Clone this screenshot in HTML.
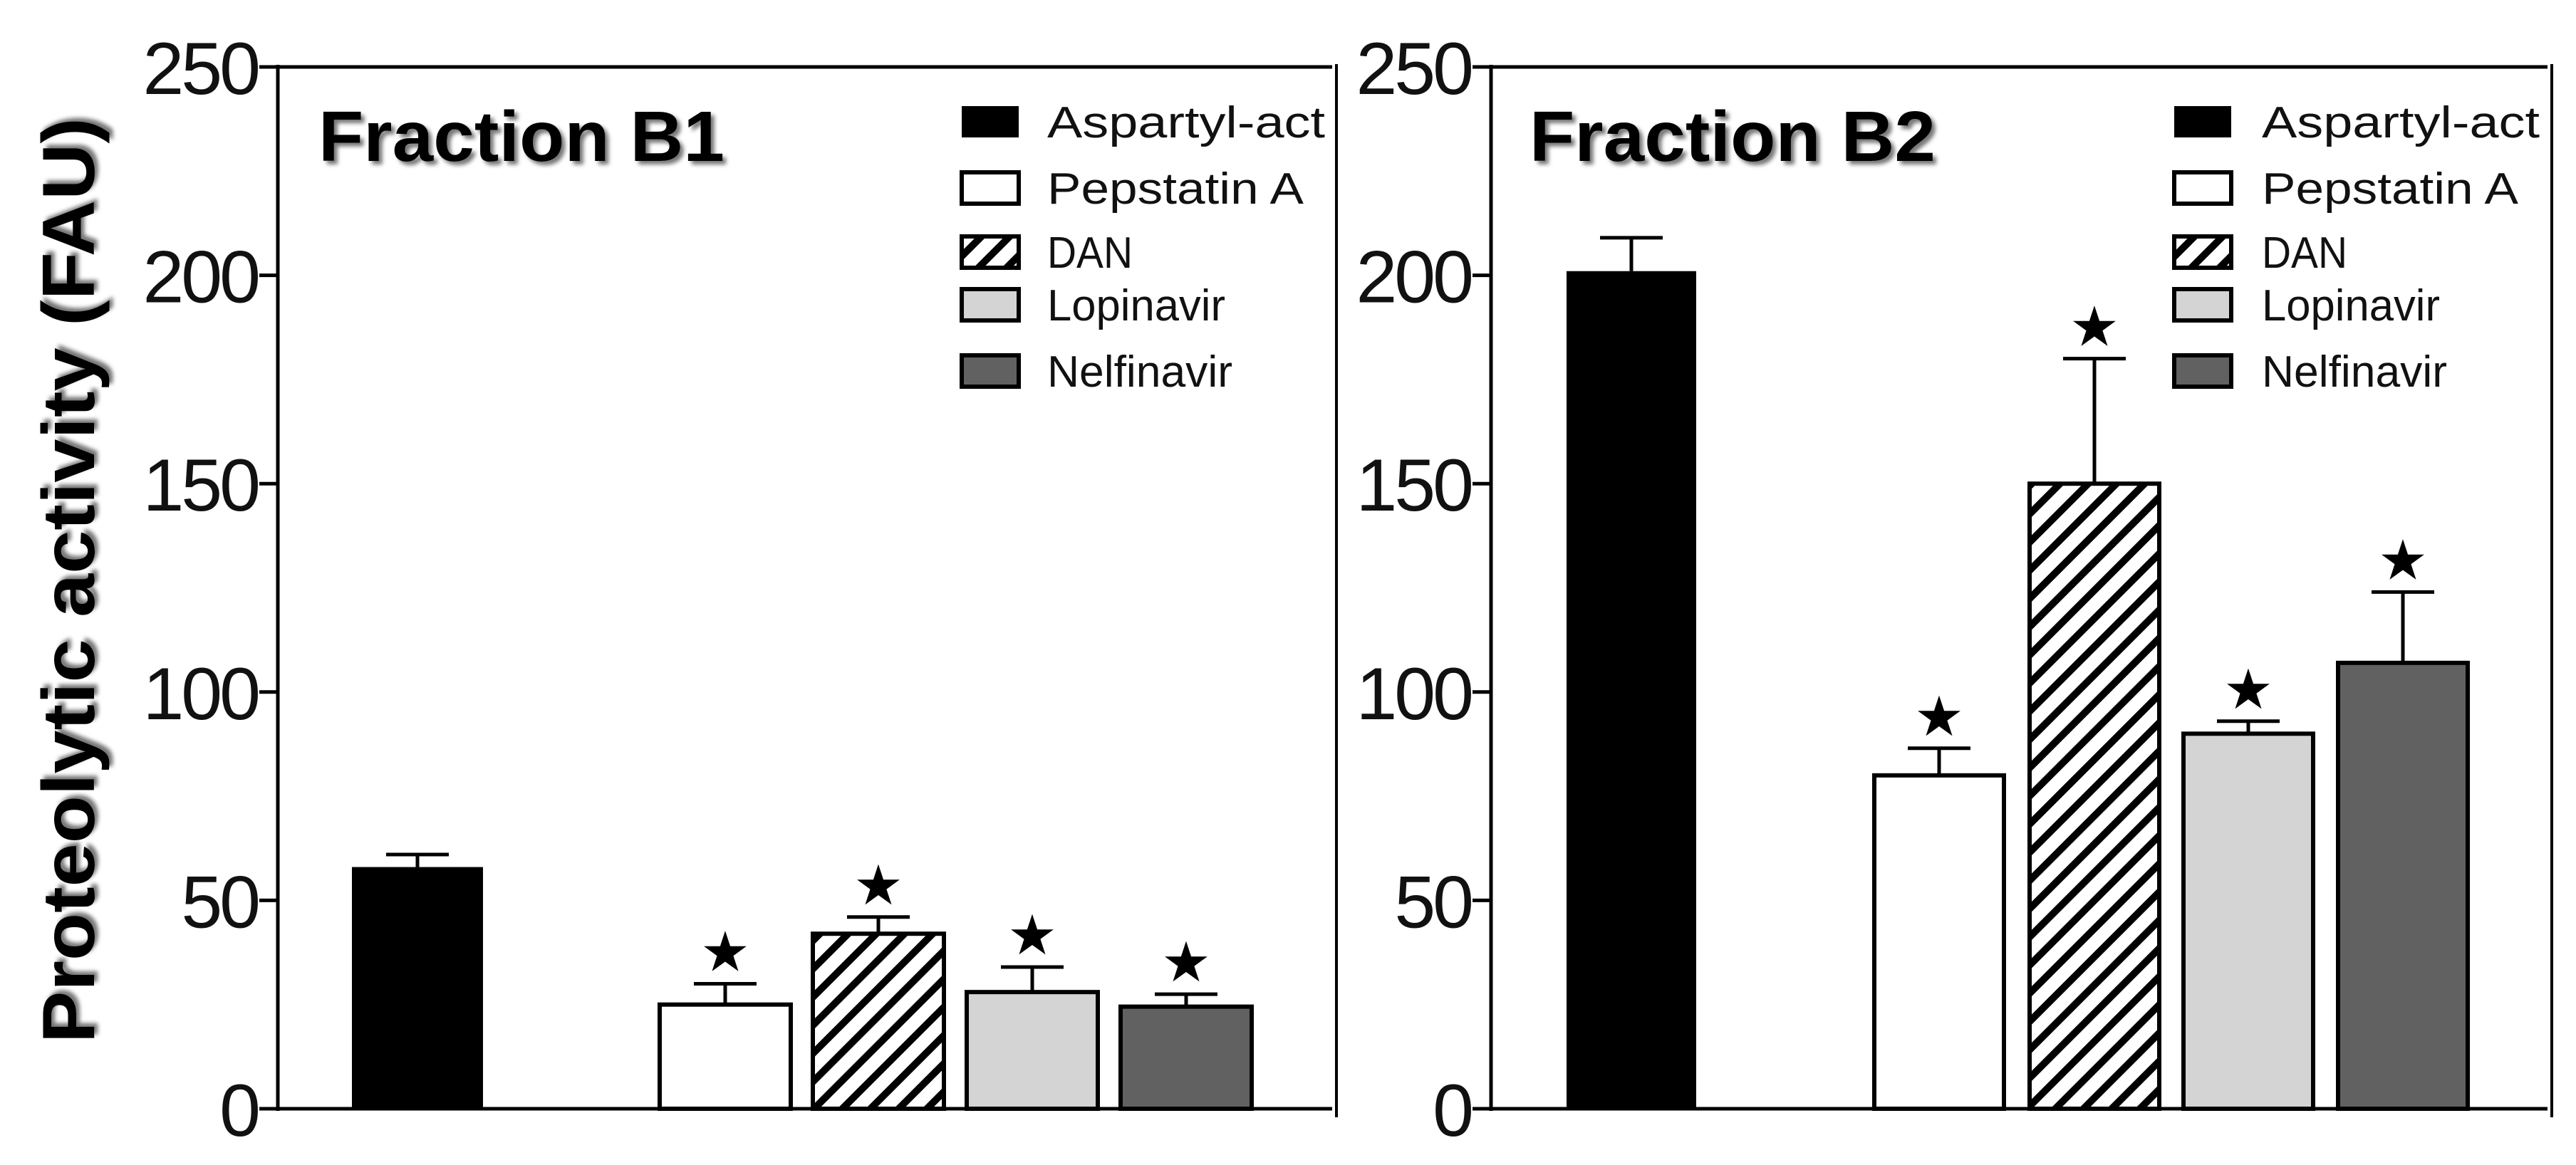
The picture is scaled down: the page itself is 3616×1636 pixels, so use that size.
<!DOCTYPE html>
<html><head><meta charset="utf-8"><style>
html,body{margin:0;padding:0;background:#fff;}
svg{display:block;font-family:"Liberation Sans",sans-serif;}
</style></head><body>
<svg id="c" width="3616" height="1636" viewBox="0 0 3616 1636" xmlns="http://www.w3.org/2000/svg">
<defs>
<pattern id="hatch" patternUnits="userSpaceOnUse" width="28" height="28" patternTransform="rotate(45)">
<rect width="28" height="28" fill="#fff"/><rect width="10" height="28" fill="#000"/>
</pattern>
<filter id="sh" x="-5%" y="-20%" width="115%" height="150%"><feDropShadow dx="5" dy="5" stdDeviation="3" flood-color="#777"/></filter>
</defs>
<text transform="translate(132,815) rotate(-90)" text-anchor="middle" font-size="104" font-weight="bold" textLength="1300" lengthAdjust="spacingAndGlyphs" filter="url(#sh)">Proteolytic activity (FAU)</text>
<g id="panels"></g>
</svg>
<script>
const ticks=[0,50,100,150,200,250];
const categories=["Aspartyl-act","Pepstatin A","DAN","Lopinavir","Nelfinavir"];
const b1Values=[58,25,42,28,24.5];
const b1Errors=[3,5,4,6,3];
const b2Values=[201,80,150,90,107];
const b2Errors=[8,6.5,30,3,17];
const sig=[false,true,true,true,true];
const fills=["#000","#fff","url(#hatch)","#d4d4d4","#616161"];
const legLens=[390,360,120,250,260];
const NS="http://www.w3.org/2000/svg";
const root=document.getElementById('panels');
function mk(tag,attrs,parent){const e=document.createElementNS(NS,tag);for(const k in attrs)e.setAttribute(k,attrs[k]);(parent||root).appendChild(e);return e;}
const panels=[
 {title:"Fraction B1",ax:390,right:1870,rline:1876,bars:[494,926,1141,1357,1573],bw:184,vals:b1Values,errs:b1Errors,tx:447,legX:1350,legTx:1470},
 {title:"Fraction B2",ax:2093,right:3576,rline:3582,bars:[2199,2631,2849,3065,3282],bw:182,vals:b2Values,errs:b2Errors,tx:2147,legX:3052,legTx:3175}
];
const y0=1557,yTop=94;
function y(v){return y0-(v/250)*(y0-yTop);}
const legY=[171,264,354,428,521];
panels.forEach((p,pi)=>{
 const g=mk('g',{});
 
 
 const t=mk('text',{x:p.tx,y:226,'font-size':100,'font-weight':'bold',filter:'url(#sh)',textLength:570,lengthAdjust:'spacingAndGlyphs'},g);t.textContent=p.title;
 
 
 const a=mk('line',{x1:p.ax,y1:yTop-3,x2:p.ax,y2:y0+3,stroke:'#000','stroke-width':5},g);
 
 
 const xa=mk('line',{x1:p.ax,y1:y0,x2:p.right,y2:y0,stroke:'#000','stroke-width':5},g);
 
 
 const tl=mk('line',{x1:p.ax,y1:yTop,x2:p.right,y2:yTop,stroke:'#000','stroke-width':5},g);
 
 
 const rl=mk('line',{x1:p.rline,y1:yTop-4,x2:p.rline,y2:y0+12,stroke:'#000','stroke-width':4},g);
 
 
 ticks.forEach(v=>{
  const tk=mk('line',{x1:p.ax-26,y1:y(v),x2:p.ax,y2:y(v),stroke:'#000','stroke-width':5},g);
  
  
  const lb=mk('text',{x:p.ax-28,y:y(v)+38,'text-anchor':'end','font-size':104,fill:'#111','letter-spacing':'-4'},g);
  lb.textContent=v;
  
  
 });
 p.vals.forEach((v,i)=>{
  const x=p.bars[i],w=p.bw,cx=x+w/2,top=y(v),et=y(v+p.errs[i]);
  const e=mk('line',{x1:cx,y1:top,x2:cx,y2:et,stroke:'#000','stroke-width':5},g);
  
  
  const c=mk('line',{x1:cx-44,y1:et,x2:cx+44,y2:et,stroke:'#000','stroke-width':5},g);
  
  
  const r=mk('rect',{x:x,y:top,width:w,height:y0-top,fill:fills[i],stroke:'#000','stroke-width':i===0?0:6},g);
  
  
  if(sig[i]){
   const s=mk('text',{x:cx,y:et-18,'text-anchor':'middle','font-size':78,fill:'#000',
     'font-family':'DejaVu Sans, sans-serif'},g);
   s.textContent='★';
   
   
  }
 });
 categories.forEach((c,i)=>{
  const cy=legY[i];
  const sw=mk('rect',{x:p.legX,y:cy-22,width:80,height:44,fill:fills[i],stroke:'#000','stroke-width':i===0?0:6},g);
  
  
  const lt=mk('text',{x:p.legTx,y:cy+22,'font-size':62,fill:'#111',textLength:legLens[i],lengthAdjust:'spacingAndGlyphs'},g);
  lt.textContent=c;
  
  
 });
});
</script>
</body></html>
